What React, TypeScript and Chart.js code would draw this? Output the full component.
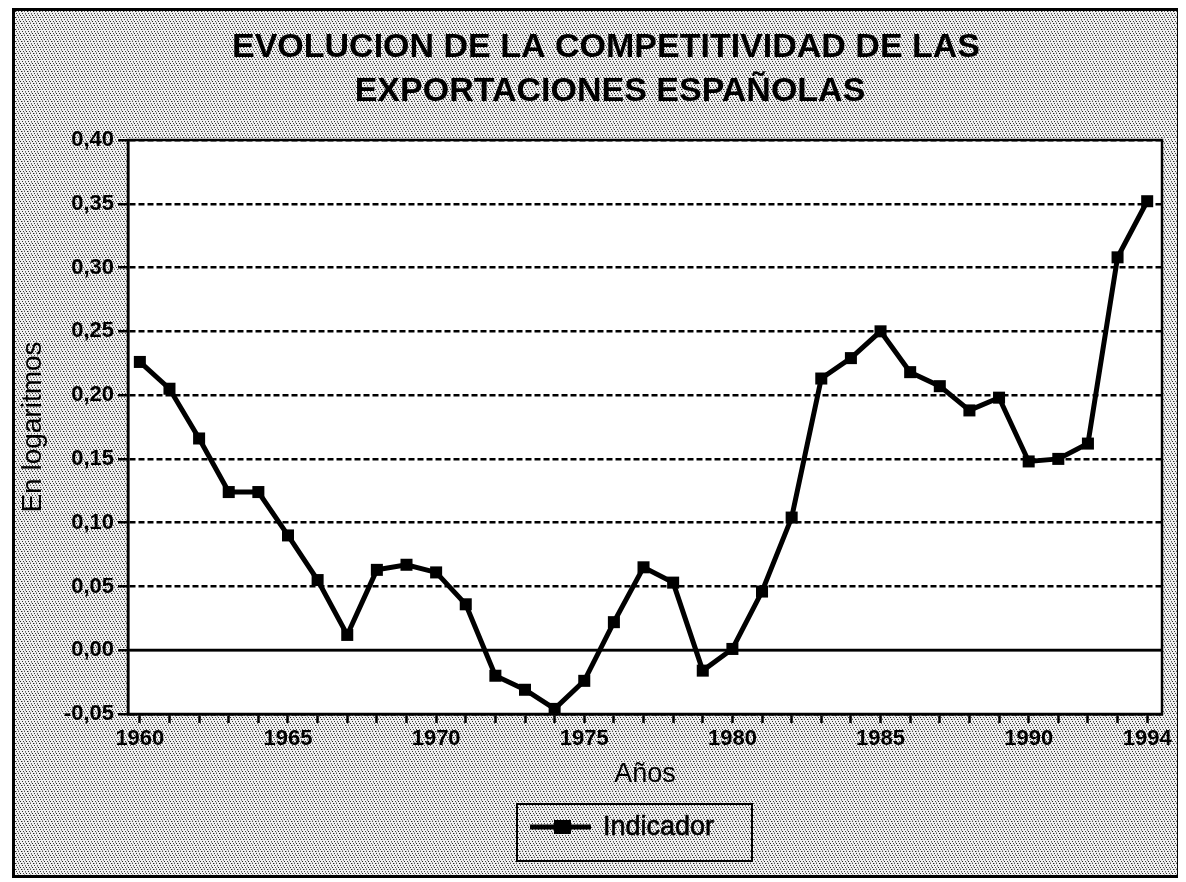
import React, { useEffect, useRef } from "react";
import { Chart, registerables } from "chart.js";

Chart.register(...registerables);

// ---- data ----
const years = [
  1960, 1961, 1962, 1963, 1964, 1965, 1966, 1967, 1968, 1969,
  1970, 1971, 1972, 1973, 1974, 1975, 1976, 1977, 1978, 1979,
  1980, 1981, 1982, 1983, 1984, 1985, 1986, 1987, 1988, 1989,
  1990, 1991, 1992, 1993, 1994,
];
const indicador = [
  0.226, 0.205, 0.166, 0.124, 0.124, 0.09, 0.055, 0.012, 0.063, 0.067,
  0.061, 0.036, -0.02, -0.031, -0.046, -0.024, 0.022, 0.065, 0.053, -0.016,
  0.001, 0.046, 0.104, 0.213, 0.229, 0.25, 0.218, 0.207, 0.188, 0.198,
  0.148, 0.15, 0.162, 0.308, 0.352,
];
const xTickLabels = ["1960", "1965", "1970", "1975", "1980", "1985", "1990", "1994"];
const yTickValues = [-0.05, 0, 0.05, 0.1, 0.15, 0.2, 0.25, 0.3, 0.35, 0.4];
const titleLines = ["EVOLUCION DE LA COMPETITIVIDAD DE LAS", "EXPORTACIONES ESPAÑOLAS"];
const seriesLabel = "Indicador";
const xAxisTitle = "Años";
const yAxisTitle = "En logaritmos";

const FONT = "'Liberation Sans', Arial, Helvetica, sans-serif";

function makePattern(ctx: CanvasRenderingContext2D) {
  const c = document.createElement("canvas");
  c.width = 6;
  c.height = 6;
  const p = c.getContext("2d")!;
  p.fillStyle = "#f0f0f0";
  p.fillRect(0, 0, 6, 6);
  const dots: [number, number, string][] = [
    [0, 0, "#222"], [3, 0, "#555"], [1, 2, "#333"], [4, 2, "#666"],
    [2, 4, "#444"], [5, 4, "#222"], [1, 0, "#aaa"], [4, 3, "#999"], [3, 5, "#aaa"],
  ];
  for (const [x, y, col] of dots) {
    p.fillStyle = col;
    p.fillRect(x, y, 1, 1);
  }
  return ctx.createPattern(c, "repeat");
}

const isZero = (c: any) => !!(c && c.tick && Math.abs(c.tick.value) < 1e-9);

const decorPlugin = {
  id: "decor",
  beforeDraw(chart: any) {
    const { ctx, chartArea, width, height } = chart;
    ctx.save();
    const pat = makePattern(ctx);
    ctx.fillStyle = pat || "#d4d4d4";
    ctx.fillRect(0, 0, width, height);
    ctx.fillStyle = "#ffffff";
    ctx.fillRect(chartArea.left, chartArea.top, chartArea.right - chartArea.left, chartArea.bottom - chartArea.top);
    ctx.restore();
  },
  beforeDatasetsDraw(chart: any) {
    const { ctx, chartArea, scales } = chart;
    const y0 = Math.round(scales.y.getPixelForValue(0));
    ctx.save();
    ctx.strokeStyle = "#000";
    ctx.lineWidth = 2.5;
    ctx.setLineDash([]);
    ctx.beginPath();
    ctx.moveTo(chartArea.left, y0);
    ctx.lineTo(chartArea.right, y0);
    ctx.stroke();
    ctx.restore();
  },
  afterDraw(chart: any) {
    const { ctx, chartArea } = chart;
    ctx.save();
    ctx.setLineDash([]);
    // plot frame
    ctx.strokeStyle = "#000";
    ctx.lineWidth = 2.5;
    ctx.strokeRect(chartArea.left, chartArea.top, chartArea.right - chartArea.left, chartArea.bottom - chartArea.top);

    // title
    ctx.fillStyle = "#000";
    ctx.font = `bold 34px ${FONT}`;
    ctx.textAlign = "center";
    ctx.textBaseline = "alphabetic";
    ctx.fillText(titleLines[0], 591, 46);
    ctx.fillText(titleLines[1], 595, 90);

    // legend
    const lx = 502, ly = 793, lw = 235, lh = 57;
    ctx.lineWidth = 2;
    ctx.strokeRect(lx, ly, lw, lh);
    const cy = ly + 23;
    ctx.lineWidth = 5;
    ctx.beginPath();
    ctx.moveTo(515, cy);
    ctx.lineTo(576, cy);
    ctx.stroke();
    ctx.fillRect(539, cy - 7, 17, 14);
    ctx.font = `27px ${FONT}`;
    ctx.textAlign = "left";
    ctx.textBaseline = "middle";
    ctx.fillText(seriesLabel, 588, cy + 1);
    ctx.lineWidth = 0.6;
    ctx.strokeText(seriesLabel, 588, cy + 1);
    ctx.restore();
  },
};

export default function App() {
  const ref = useRef<HTMLCanvasElement>(null);

  useEffect(() => {
    if (!ref.current) return;
    Chart.defaults.font.family = FONT;
    Chart.defaults.color = "#000";
    const chart = new Chart(ref.current, {
      type: "line",
      data: {
        datasets: [
          {
            label: seriesLabel,
            data: years.map((yr, i) => ({ x: yr, y: indicador[i] })),
            borderColor: "#000",
            backgroundColor: "#000",
            borderWidth: 5,
            pointStyle: "rect",
            pointRadius: 8.5,
            pointBackgroundColor: "#000",
            pointBorderColor: "#000",
            pointBorderWidth: 0,
            tension: 0,
            fill: false,
          },
        ],
      },
      options: {
        animation: false,
        responsive: false,
        devicePixelRatio: 1,
        layout: { padding: { left: 0, right: 15, top: 129, bottom: 81 } },
        plugins: {
          legend: { display: false },
          title: { display: false },
          tooltip: { enabled: false },
        },
        scales: {
          x: {
            type: "linear",
            min: 1959.6,
            max: 1994.5,
            afterBuildTicks: (scale: any) => {
              scale.ticks = years.map((v) => ({ value: v }));
            },
            afterFit: (scale: any) => {
              scale.height = 80;
            },
            ticks: {
              autoSkip: false,
              maxRotation: 0,
              includeBounds: false,
              padding: 3,
              font: { size: 22, weight: "bold" },
              color: "#000",
              callback: (v: any) => (xTickLabels.includes(String(v)) ? String(v) : ""),
            },
            grid: {
              drawOnChartArea: false,
              drawTicks: true,
              tickLength: 9,
              tickWidth: 2.5,
              tickColor: "#000",
            },
            border: { display: true, color: "#000", width: 2.5 },
            title: {
              display: true,
              text: xAxisTitle,
              font: { size: 27 },
              color: "#000",
              padding: { top: 0, bottom: 3 },
            },
          },
          y: {
            type: "linear",
            min: -0.05,
            max: 0.4,
            afterBuildTicks: (scale: any) => {
              scale.ticks = yTickValues.map((v) => ({ value: v }));
            },
            afterFit: (scale: any) => {
              scale.width = 113;
            },
            ticks: {
              padding: 4,
              font: { size: 22, weight: "bold" },
              color: "#000",
              callback: (v: any) => Number(v).toFixed(2).replace(".", ","),
            },
            grid: {
              drawOnChartArea: true,
              drawTicks: true,
              tickLength: 10,
              tickWidth: 2.5,
              tickColor: "#000",
              tickBorderDash: [],
              color: "#000",
              lineWidth: 2.5,
            },
            border: {
              display: true,
              color: "#000",
              width: 2.5,
              dash: (c: any) => (isZero(c) ? [] : [6, 3]),
            },
            title: {
              display: true,
              text: yAxisTitle,
              font: { size: 28 },
              color: "#000",
              padding: { top: 1, bottom: 0 },
            },
          },
        },
      } as any,
      plugins: [decorPlugin],
    });
    return () => chart.destroy();
  }, []);

  return (
    <div
      style={{
        marginLeft: 4,
        width: 1162,
        height: 864,
        border: "3px solid #000",
        lineHeight: 0,
      }}
    >
      <canvas ref={ref} width={1162} height={864} style={{ display: "block", width: 1162, height: 864 }} />
    </div>
  );
}
